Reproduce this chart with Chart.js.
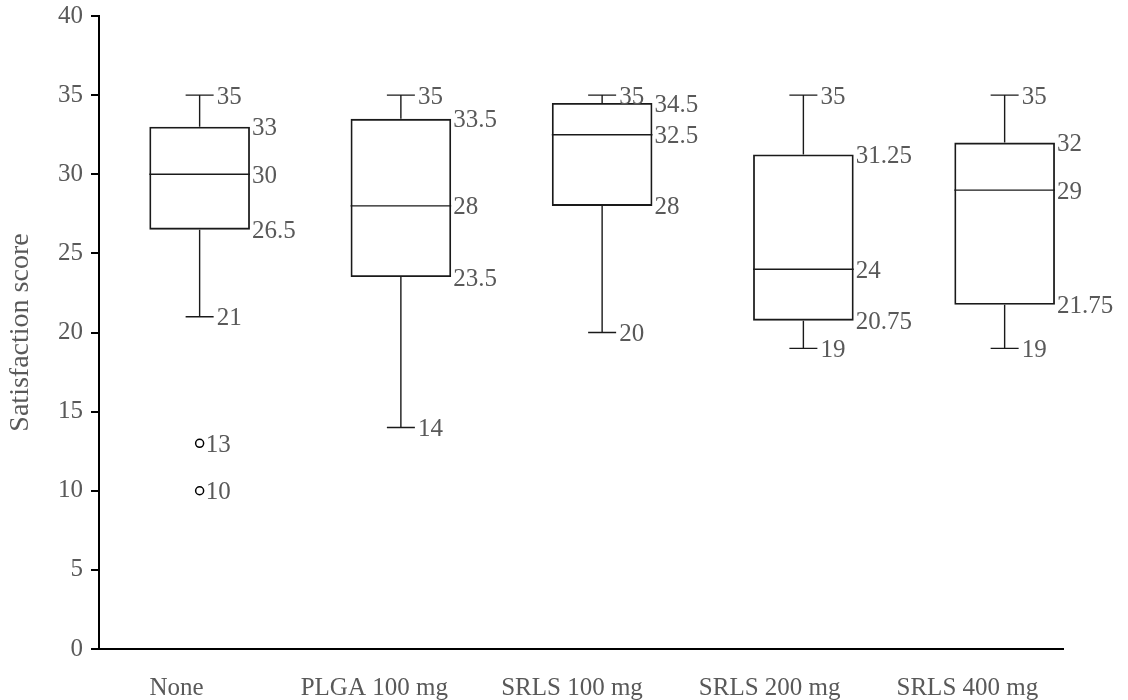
<!DOCTYPE html>
<html>
<head>
<meta charset="utf-8">
<script src="https://cdn.jsdelivr.net/npm/chart.js@4.4.1/dist/chart.umd.min.js"></script>
<style>
  html, body { margin: 0; padding: 0; background: #fff; }
  #wrap { width: 1128px; height: 700px; }
</style>
</head>
<body>
<div id="wrap"><canvas id="chart" width="1128" height="700"></canvas></div>
<script>
const categories = ['None', 'PLGA 100 mg', 'SRLS 100 mg', 'SRLS 200 mg', 'SRLS 400 mg'];
const whiskerLow = [21, 14, 20, 19, 19];
const q1 = [26.5, 23.5, 28, 20.75, 21.75];
const median = [30, 28, 32.5, 24, 29];
const q3 = [33, 33.5, 34.5, 31.25, 32];
const whiskerHigh = [35, 35, 35, 35, 35];
const outlierGroup = [0, 0];
const outlierValues = [13, 10];
const yTicks = [0, 5, 10, 15, 20, 25, 30, 35, 40];

const serif = "'Liberation Serif', 'Times New Roman', serif";
const lineColor = '#1a1a1a';
const textColor = '#595959';

// whiskers, caps, medians and the value labels
const boxExtras = {
    id: 'boxExtras',
    afterDatasetsDraw(chart) {
        const ctx = chart.ctx;
        const y = chart.scales.y;
        const bars = chart.getDatasetMeta(0).data;
        const capHalf = 14;
        ctx.save();
        ctx.strokeStyle = lineColor;
        ctx.lineWidth = 1.4;
        bars.forEach((bar, i) => {
            const cx = bar.x;
            const left = bar.x - bar.width / 2;
            const right = bar.x + bar.width / 2;
            const yLo = y.getPixelForValue(whiskerLow[i]);
            const yHi = y.getPixelForValue(whiskerHigh[i]);
            const yQ1 = y.getPixelForValue(q1[i]);
            const yQ3 = y.getPixelForValue(q3[i]);
            const yMed = y.getPixelForValue(median[i]);

            ctx.beginPath();
            ctx.moveTo(cx, yQ3); ctx.lineTo(cx, yHi);
            ctx.moveTo(cx - capHalf, yHi); ctx.lineTo(cx + capHalf, yHi);
            ctx.moveTo(cx, yQ1); ctx.lineTo(cx, yLo);
            ctx.moveTo(cx - capHalf, yLo); ctx.lineTo(cx + capHalf, yLo);
            ctx.moveTo(left, yMed); ctx.lineTo(right, yMed);
            ctx.stroke();

            ctx.fillStyle = textColor;
            ctx.font = '25px ' + serif;
            ctx.textAlign = 'left';
            ctx.textBaseline = 'middle';
            ctx.fillText(String(whiskerHigh[i]), cx + capHalf + 3, yHi + 2);
            ctx.fillText(String(whiskerLow[i]), cx + capHalf + 3, yLo + 2);
            ctx.fillText(String(q3[i]), right + 2, yQ3 + 2);
            ctx.fillText(String(median[i]), right + 2, yMed + 2);
            ctx.fillText(String(q1[i]), right + 2, yQ1 + 2);
        });
        const pts = chart.getDatasetMeta(1).data;
        pts.forEach((p, i) => {
            ctx.fillText(String(outlierValues[i]), p.x + 6, p.y + 2);
        });
        ctx.restore();
    }
};

const indexTicks = (s) => { s.ticks = categories.map((c, i) => ({ value: i })); };

new Chart(document.getElementById('chart'), {
    type: 'bar',
    data: {
        labels: categories,
        datasets: [{
            xAxisID: 'xb',
            data: categories.map((c, i) => ({ x: i, y: [q1[i], q3[i]] })),
            backgroundColor: 'rgba(255,255,255,0)',
            borderColor: lineColor,
            borderWidth: 1.8,
            borderSkipped: false,
            barPercentage: 0.5,
            categoryPercentage: 1.0
        }, {
            type: 'line',
            xAxisID: 'xb',
            data: outlierGroup.map((g, i) => ({ x: g, y: outlierValues[i] })),
            showLine: false,
            pointRadius: 4,
            pointBackgroundColor: '#fff',
            pointBorderColor: '#000',
            pointBorderWidth: 1.5
        }]
    },
    options: {
        responsive: false,
        animation: false,
        layout: { padding: { left: 0, right: 65, top: 0, bottom: 0 } },
        plugins: {
            legend: { display: false },
            tooltip: { enabled: false }
        },
        scales: {
            // visible axis: the group names sit a little left of the boxes, as in the source
            x: {
                type: 'linear',
                offset: false,
                min: -0.3925,
                max: 4.4836,
                afterBuildTicks: indexTicks,
                grid: { display: false },
                border: { display: true, color: '#000', width: 2 },
                ticks: {
                    color: textColor,
                    font: { family: serif, size: 25 },
                    padding: 16,
                    maxRotation: 0,
                    autoSkip: false,
                    callback: (v) => categories[v]
                },
                afterFit: (s) => { s.height = 51; }
            },
            // hidden axis that places the boxes
            xb: {
                type: 'linear',
                display: false,
                offset: false,
                min: -0.5,
                max: 4.29,
                afterBuildTicks: indexTicks
            },
            y: {
                min: 0,
                max: 40,
                afterBuildTicks: (s) => { s.ticks = yTicks.map(v => ({ value: v })); },
                grid: { drawOnChartArea: false, drawTicks: true, tickLength: 8, color: '#000', lineWidth: 2 },
                border: { display: true, color: '#000', width: 2 },
                ticks: { color: textColor, font: { family: serif, size: 25 }, padding: 8 },
                title: { display: true, text: 'Satisfaction score', color: textColor, font: { family: serif, size: 28 }, padding: 4 },
                afterFit: (s) => { s.width = 99; s.paddingTop = 16; }
            }
        }
    },
    plugins: [boxExtras]
});
</script>
</body>
</html>
